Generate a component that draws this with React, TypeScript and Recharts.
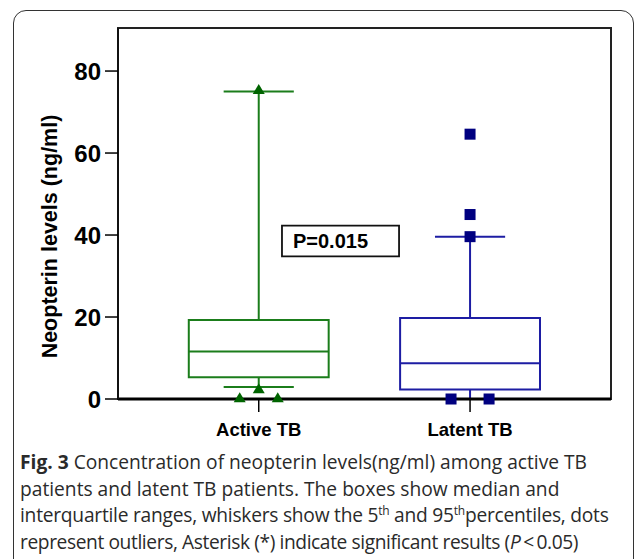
import {
  ComposedChart,
  XAxis,
  YAxis,
  Scatter,
  ReferenceArea,
  ReferenceLine,
} from "recharts";

// categories and box-plot statistics (ng/ml)
const groups = ["Active TB", "Latent TB"];
const groupPos = [1, 2];
const q1 = [5.3, 2.3];
const median = [11.6, 8.7];
const q3 = [19.3, 19.75];
const whiskerLow = [2.9, 0];
const whiskerHigh = [75, 39.6];

// outliers (x is the group position with a little jitter as in the figure)
const activeOutX = [1, 1, 0.91, 1.09];
const activeOutY = [75.5, 2.5, 0.3, 0.3];
const latentOutX = [2, 2, 2, 1.91, 2.09];
const latentOutY = [64.6, 45, 39.6, 0, 0];

const yTicks = [0, 20, 40, 60, 80];
const Y_TITLE = "Neopterin levels (ng/ml)";
const P_TEXT = "P=0.015";
const pBoxX = [1.11, 1.664];
const pBoxY = [34.8, 42.3];

const X_DOMAIN = [0.334, 2.667];
const Y_DOMAIN = [0, 90.5];
const BOX_HALF = 0.331;
const CAP_HALF = 0.166;

const groupColors = ["#1b7d1b", "#1d1da3"];
const markerColors = ["#006400", "#000080"];
const AXIS_FONT = '"Liberation Sans", Arial, sans-serif';

const activeOutliers = activeOutX.map((x, i) => ({ x, y: activeOutY[i] }));
const latentOutliers = latentOutX.map((x, i) => ({ x, y: latentOutY[i] }));

const Triangle = (props: any) => {
  const { cx, cy } = props;
  return (
    <polygon
      points={`${cx},${cy - 5.5} ${cx - 6},${cy + 4.5} ${cx + 6},${cy + 4.5}`}
      fill={markerColors[0]}
    />
  );
};

const Square = (props: any) => {
  const { cx, cy } = props;
  return <rect x={cx - 5.5} y={cy - 5.5} width={11} height={11} fill={markerColors[1]} />;
};

const YTitle = (props: any) => {
  const { viewBox } = props;
  const cy = viewBox.y + viewBox.height / 2 + 23;
  return (
    <text
      transform={`translate(57,${cy}) rotate(-90)`}
      textAnchor="middle"
      fontFamily={AXIS_FONT}
      fontWeight="bold"
      fontSize={21.5}
      fill="#000"
    >
      {Y_TITLE}
    </text>
  );
};

const supStyle = { fontSize: 12, lineHeight: 0 };

export default function App() {
  const boxes = groupPos.flatMap((pos, i) => {
    const c = groupColors[i];
    return [
      <ReferenceArea
        key={`box${i}`}
        x1={pos - BOX_HALF}
        x2={pos + BOX_HALF}
        y1={q1[i]}
        y2={q3[i]}
        fill="#fff"
        fillOpacity={1}
        stroke={c}
        strokeWidth={2}
      />,
      <ReferenceLine
        key={`med${i}`}
        segment={[{ x: pos - BOX_HALF, y: median[i] }, { x: pos + BOX_HALF, y: median[i] }]}
        stroke={c}
        strokeWidth={2}
      />,
      <ReferenceLine
        key={`wh${i}`}
        segment={[{ x: pos, y: q3[i] }, { x: pos, y: whiskerHigh[i] }]}
        stroke={c}
        strokeWidth={2}
      />,
      <ReferenceLine
        key={`wl${i}`}
        segment={[{ x: pos, y: q1[i] }, { x: pos, y: whiskerLow[i] }]}
        stroke={c}
        strokeWidth={2}
      />,
      <ReferenceLine
        key={`ch${i}`}
        segment={[{ x: pos - CAP_HALF, y: whiskerHigh[i] }, { x: pos + CAP_HALF, y: whiskerHigh[i] }]}
        stroke={c}
        strokeWidth={2}
      />,
      <ReferenceLine
        key={`cl${i}`}
        segment={[{ x: pos - CAP_HALF, y: whiskerLow[i] }, { x: pos + CAP_HALF, y: whiskerLow[i] }]}
        stroke={c}
        strokeWidth={2}
      />,
    ];
  });

  return (
    <div
      style={{
        position: "absolute",
        left: 0,
        top: 0,
        width: 635,
        height: 559,
        background: "#fff",
        overflow: "hidden",
      }}
    >
      <div
        style={{
          position: "absolute",
          left: 13,
          top: 10,
          width: 619,
          height: 580,
          border: "1.5px solid #333",
          borderRadius: 13,
        }}
      />
      <div style={{ position: "absolute", left: 0, top: 0 }}>
        <ComposedChart
          width={635}
          height={450}
          margin={{ top: 28, right: 24, bottom: 0, left: 0 }}
        >
          {/* plot frame */}
          <ReferenceArea
            x1={X_DOMAIN[0]}
            x2={X_DOMAIN[1]}
            y1={Y_DOMAIN[0]}
            y2={Y_DOMAIN[1]}
            fill="none"
            stroke="#222"
            strokeWidth={2}
            ifOverflow="visible"
          />
          <XAxis
            dataKey="x"
            type="number"
            domain={X_DOMAIN}
            ticks={groupPos}
            tickFormatter={(v) => groups[groupPos.indexOf(v)] ?? ""}
            height={51}
            tickSize={13}
            tickMargin={11}
            axisLine={{ stroke: "#000", strokeWidth: 3 }}
            tickLine={{ stroke: "#000", strokeWidth: 1.5 }}
            tick={{ fill: "#000", fontSize: 18.5, fontWeight: "bold", fontFamily: AXIS_FONT }}
          />
          <YAxis
            dataKey="y"
            type="number"
            domain={Y_DOMAIN}
            ticks={yTicks}
            width={118}
            tickSize={13}
            tickMargin={4}
            axisLine={{ stroke: "#111", strokeWidth: 2 }}
            tickLine={{ stroke: "#000", strokeWidth: 1.5 }}
            tick={{ fill: "#000", fontSize: 24, fontWeight: "bold", fontFamily: AXIS_FONT }}
            label={YTitle}
          />
          {boxes}
          <ReferenceArea
            x1={pBoxX[0]}
            x2={pBoxX[1]}
            y1={pBoxY[0]}
            y2={pBoxY[1]}
            fill="#fff"
            fillOpacity={1}
            stroke="#111"
            strokeWidth={1.8}
            label={{
              value: P_TEXT,
              position: "insideLeft",
              offset: 11,
              fill: "#000",
              fontSize: 20,
              fontWeight: "bold",
              fontFamily: AXIS_FONT,
            }}
          />
          <Scatter data={activeOutliers} shape={Triangle} isAnimationActive={false} />
          <Scatter data={latentOutliers} shape={Square} isAnimationActive={false} />
        </ComposedChart>
      </div>
      <div
        style={{
          position: "absolute",
          left: 20,
          top: 449,
          fontFamily: '"Open Sans", sans-serif',
          fontSize: 19.2,
          lineHeight: "26.5px",
          color: "#2a2a2a",
          whiteSpace: "nowrap",
        }}
      >
        <div>
          <b>Fig. 3</b> Concentration of neopterin levels(ng/ml) among active TB
        </div>
        <div>patients and latent TB patients. The boxes show median and</div>
        <div style={{ letterSpacing: -0.24 }}>
          interquartile ranges, whiskers show the 5<sup style={supStyle}>th</sup> and 95
          <sup style={supStyle}>th</sup>percentiles, dots
        </div>
        <div style={{ letterSpacing: -0.4 }}>
          represent outliers, Asterisk (*) indicate significant results (<i>P</i>
          {"\u2009<\u2009"}0.05)
        </div>
      </div>
    </div>
  );
}
